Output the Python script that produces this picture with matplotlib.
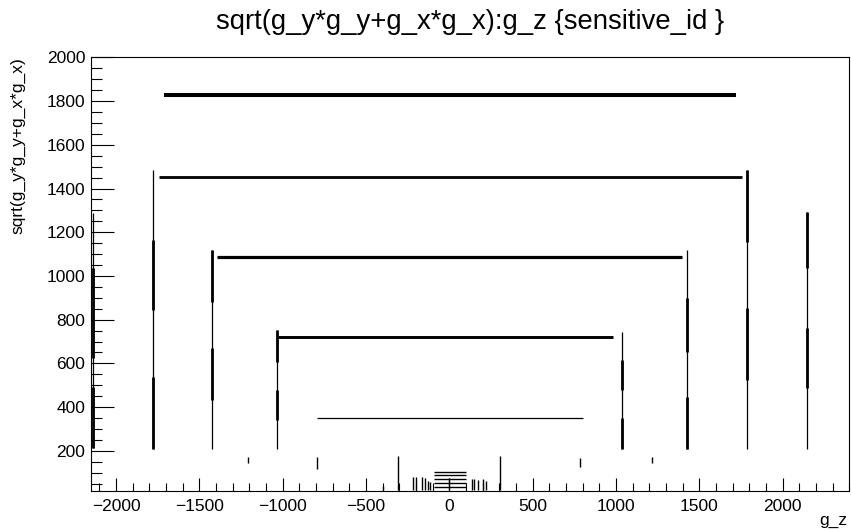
import numpy as np
import matplotlib
matplotlib.use("Agg")
import matplotlib.pyplot as plt
from matplotlib.ticker import MultipleLocator

plt.rcParams['font.family'] = ['Liberation Sans', 'DejaVu Sans']

# barrel layers: horizontal bands of hits (r, z range)
barrel_r = [1828, 1453, 1086, 720, 350]
barrel_zmin = [-1710, -1740, -1392, -1026, -792]
barrel_zmax = [1722, 1758, 1398, 984, 804]

# endcap discs: vertical bands of hits (z, r range)
endcap_z = [-2138, -1776, -1422, -1032, 1038, 1428, 1788, 2148]
endcap_rmin = [212, 208, 208, 208, 208, 208, 208, 208]
endcap_rmax = [1288, 1484, 1118, 752, 743, 1118, 1484, 1291]

# denser parts of the endcap bands
dense_z = [-2138, -2138, -1776, -1776, -1422, -1422, -1032, -1032,
           1038, 1038, 1428, 1428, 1788, 1788, 2148, 2148]
dense_rlo = [624, 212, 843, 208, 880, 432, 606, 341,
             478, 208, 651, 208, 1154, 523, 1036, 487]
dense_rhi = [1036, 492, 1163, 537, 1118, 670, 752, 478,
             615, 350, 898, 446, 1484, 852, 1291, 762]

# short hit clusters at low radius
low_z = [-1206, -792, 786, 1218, -306, 306, -396, -216, -198, -162, -144,
         -126, -114, 0, 138, 150, 174, 204, 222]
low_rlo = [143, 118, 125, 143, 20, 20, 20, 20, 20, 20, 20,
           20, 20, 20, 20, 20, 20, 20, 20]
low_rhi = [171, 171, 168, 171, 176, 176, 40, 80, 80, 80, 75,
           60, 55, 75, 70, 70, 65, 70, 60]

# beam-pipe layers near z = 0
beam_r = [105, 88, 70, 52, 34]
beam_zmin = -90
beam_zmax = 102

barrel_lw = [2.9, 2.0, 2.3, 2.1, 0.9]

fig = plt.figure(figsize=(8.51, 5.30), dpi=100)
ax = fig.add_axes([91 / 851, 39 / 530, 758.3 / 851, 433.6 / 530])

for r, z0, z1, lw in zip(barrel_r, barrel_zmin, barrel_zmax, barrel_lw):
    ax.hlines(r, z0, z1, color='black', lw=lw)
ax.vlines(endcap_z, endcap_rmin, endcap_rmax, color='black', lw=0.9)
ax.vlines(dense_z, dense_rlo, dense_rhi, color='black', lw=2.0)
ax.vlines(low_z, low_rlo, low_rhi, color='black', lw=1.0)
ax.hlines(beam_r, beam_zmin, beam_zmax, color='black', lw=1.0)

ax.set_xlim(-2150, 2400)
ax.set_ylim(16, 2000)

ax.xaxis.set_major_locator(MultipleLocator(500))
ax.xaxis.set_minor_locator(MultipleLocator(100))
ax.yaxis.set_major_locator(MultipleLocator(200))
ax.yaxis.set_minor_locator(MultipleLocator(50))
ax.set_yticks([200, 400, 600, 800, 1000, 1200, 1400, 1600, 1800, 2000])

ax.tick_params(axis='both', which='both', direction='in', width=0.8,
               labelsize=12.5, top=False, right=False)
ax.tick_params(axis='x', which='major', length=9.4, pad=6)
ax.tick_params(axis='x', which='minor', length=5.5)
ax.tick_params(axis='y', which='major', length=16.6, pad=4)
ax.tick_params(axis='y', which='minor', length=8.2)
for s in ax.spines.values():
    s.set_linewidth(0.8)

# axis titles placed ROOT-style at the axis ends
fig.text(847 / 851, 1 - 521 / 530, 'g_z', ha='right', va='center', fontsize=12.5)
fig.text(18 / 851, 1 - 57 / 530, 'sqrt(g_y*g_y+g_x*g_x)', ha='center', va='top',
         rotation=90, fontsize=12.5)
fig.text(470 / 851, 1 - 22 / 530, 'sqrt(g_y*g_y+g_x*g_x):g_z {sensitive_id }',
         ha='center', va='center', fontsize=19.8)

fig.savefig('out.png', dpi=100)
